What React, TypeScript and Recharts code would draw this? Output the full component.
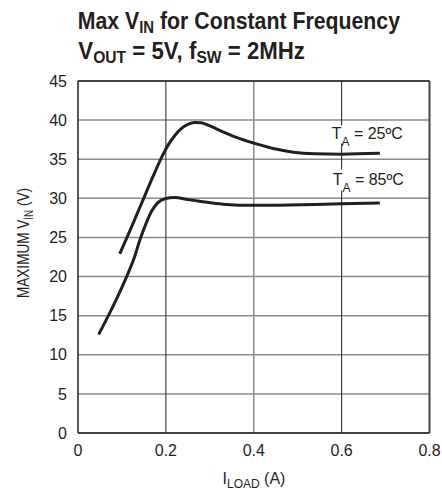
import React from 'react';
import { LineChart, Line, XAxis, YAxis, CartesianGrid, ReferenceLine } from 'recharts';

const xTicks = [0, 0.2, 0.4, 0.6, 0.8];
const yTicks = [0, 5, 10, 15, 20, 25, 30, 35, 40, 45];

const iLoad25 = [0.095, 0.12, 0.145, 0.17, 0.19, 0.205, 0.22, 0.235, 0.25, 0.265, 0.28, 0.3, 0.33, 0.37, 0.41, 0.45, 0.49, 0.54, 0.6, 0.687];
const vin25 = [22.9, 26.1, 29.4, 32.7, 35.2, 36.8, 38.0, 38.9, 39.45, 39.7, 39.65, 39.25, 38.5, 37.6, 36.9, 36.3, 35.9, 35.7, 35.65, 35.75];

const iLoad85 = [0.047, 0.07, 0.09, 0.11, 0.128, 0.141, 0.155, 0.168, 0.182, 0.198, 0.22, 0.25, 0.28, 0.33, 0.4, 0.48, 0.56, 0.687];
const vin85 = [12.6, 15.1, 17.4, 19.9, 22.4, 24.7, 26.8, 28.4, 29.45, 29.95, 30.1, 29.85, 29.6, 29.25, 29.1, 29.15, 29.25, 29.4];

const data25 = iLoad25.map((x, i) => ({ x, y: vin25[i] }));
const data85 = iLoad85.map((x, i) => ({ x, y: vin85[i] }));

const FONT = "'Liberation Sans', Arial, Helvetica, sans-serif";
const INK = '#231f20';
const GRID = '#8c8c8c';

export default function App() {
  return (
    <div style={{ position: 'absolute', left: 0, top: 0, width: 442, height: 494, background: '#fff' }}>
      <LineChart width={442} height={494} margin={{ top: 81, right: 12.5, bottom: 0, left: 0 }}>
        <CartesianGrid vertical={false} stroke={GRID} strokeWidth={1.5} />
        <XAxis
          type="number"
          dataKey="x"
          domain={[0, 0.8]}
          ticks={xTicks}
          height={61}
          tickSize={0}
          tickMargin={12}
          axisLine={{ stroke: INK, strokeWidth: 1.5 }}
          tick={{ fill: INK, fontSize: 16, fontFamily: FONT }}
          allowDataOverflow
        />
        <YAxis
          type="number"
          domain={[0, 45]}
          ticks={yTicks}
          width={78}
          tickSize={0}
          tickMargin={11}
          axisLine={{ stroke: INK, strokeWidth: 1.5 }}
          tick={{ fill: INK, fontSize: 16, fontFamily: FONT }}
          allowDataOverflow
        />
        <ReferenceLine x={0.2} stroke={INK} strokeWidth={1} />
        <ReferenceLine x={0.4} stroke={GRID} strokeWidth={1.5} />
        <ReferenceLine x={0.6} stroke={INK} strokeWidth={1} />
        <ReferenceLine x={0.8} stroke="#444" strokeWidth={2} />
        <ReferenceLine y={45} stroke={INK} strokeWidth={1.5} />
        <Line data={data25} dataKey="y" type="monotone" stroke={INK} strokeWidth={3} dot={false} isAnimationActive={false} />
        <Line data={data85} dataKey="y" type="monotone" stroke={INK} strokeWidth={3} dot={false} isAnimationActive={false} />
      </LineChart>
      <svg width={442} height={494} style={{ position: 'absolute', left: 0, top: 0, pointerEvents: 'none' }}>
        <g fontFamily={FONT} fill={INK}>
          <text x={77.7} y={29.3} fontSize={23.5} fontWeight="bold" textLength={322.3} lengthAdjust="spacingAndGlyphs">
            Max V<tspan fontSize={16.5} dy={3.4}>IN</tspan><tspan dy={-3.4}> for Constant Frequency</tspan>
          </text>
          <text x={78.3} y={59.3} fontSize={23.5} fontWeight="bold" textLength={226.7} lengthAdjust="spacingAndGlyphs">
            V<tspan fontSize={16.5} dy={4}>OUT</tspan><tspan dy={-4}> = 5V, f</tspan><tspan fontSize={16.5} dy={4}>SW</tspan><tspan dy={-4}> = 2MHz</tspan>
          </text>

          <rect x={330} y={125.5} width={74} height={18} fill="#fff" />
          <text x={331.7} y={139.3} fontSize={16}>
            T<tspan fontSize={12} dy={6.5}>A</tspan><tspan dy={-6.5}> = 25ºC</tspan>
          </text>
          <rect x={331} y={169.5} width={74} height={21} fill="#fff" />
          <text x={332.7} y={185} fontSize={16}>
            T<tspan fontSize={12} dy={6.5}>A</tspan><tspan dy={-6.5}> = 85ºC</tspan>
          </text>

          <text x={254} y={484} fontSize={16} textAnchor="middle">
            I<tspan fontSize={12} dy={4}>LOAD</tspan><tspan dy={-4}> (A)</tspan>
          </text>
          <text transform="translate(29,243) rotate(-90)" x={0} y={0} fontSize={16.5} textAnchor="middle" textLength={110} lengthAdjust="spacingAndGlyphs">
            MAXIMUM V<tspan fontSize={12} dy={3.5}>IN</tspan><tspan dy={-3.5}> (V)</tspan>
          </text>
        </g>
      </svg>
    </div>
  );
}
